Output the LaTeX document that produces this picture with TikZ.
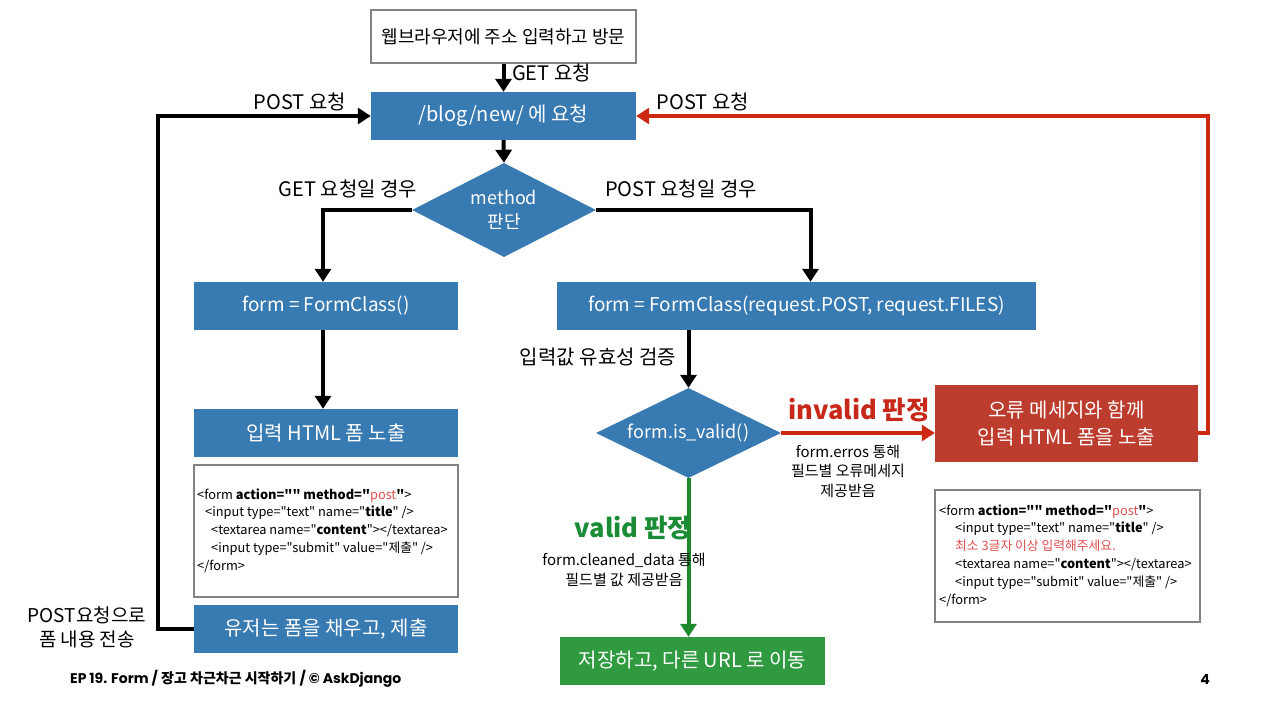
\documentclass[tikz,border=0pt]{standalone}
\usepackage{fontspec}
\setmainfont{Noto Sans CJK KR}[Ligatures=TeXOff]
\newfontfamily\popfont{Poppins}
\usetikzlibrary{arrows.meta,shapes.geometric,calc}
\definecolor{myblue}{RGB}{56,122,178}
\definecolor{myred}{RGB}{188,60,46}
\definecolor{arrred}{RGB}{204,40,18}
\definecolor{mygreen}{RGB}{48,154,64}
\definecolor{arrgreen}{RGB}{30,138,46}
\definecolor{txtred}{RGB}{200,40,26}
\definecolor{txtgreen}{RGB}{26,140,53}
\definecolor{codered}{RGB}{224,80,80}
\definecolor{bordergray}{RGB}{130,130,130}
\newcommand\fsz[2]{\fontsize{#1}{#2}\selectfont}
\begin{document}
\begin{tikzpicture}[x=1pt,y=-1pt,
  bluebox/.style={fill=myblue,text=white,minimum height=48pt,inner sep=0pt,font=\fsz{20}{24}},
  whitebox/.style={draw=bordergray,line width=1.2pt,fill=white,inner sep=0pt},
  decision/.style={diamond,fill=myblue,inner sep=0pt},
  lbl/.style={font=\fsz{20}{25},align=center,inner sep=0pt},
  dlbl/.style={font=\fsz{18}{24},align=center,inner sep=0pt,text=white},
  small/.style={font=\fsz{15}{19.5},align=center,inner sep=0pt},
  code/.style={font=\fsz{12.8}{17.8},align=left,inner sep=0pt,anchor=west},
  arr/.style={line width=4pt,line join=miter,-{Triangle[length=13pt,width=16pt]}},
]
\useasboundingbox (0,0) rectangle (1280,720);
\fill[white] (0,0) rectangle (1280,720);

% nodes
\node[whitebox,minimum width=265pt,minimum height=53pt,font=\fsz{18}{22}] (top) at (503.5,36.5) {웹브라우저에 주소 입력하고 방문};
\node[bluebox,minimum width=265pt] (blog) at (503.5,116) {/blog/new/ 에 요청};
\node[decision,minimum width=184pt,minimum height=94pt] (md) at (504,210) {};
\node[dlbl] (mdt) at (md) {method\\판단};
\node[bluebox,minimum width=264pt,font=\fsz{19}{23}] (formL) at (326,306) {form = FormClass()};
\node[bluebox,minimum width=479pt,font=\fsz{19}{23}] (formR) at (796.5,306) {form = FormClass(request.POST, request.FILES)};
\node[bluebox,minimum width=264pt] (html) at (326,433) {입력 HTML 폼 노출};
\node[whitebox,minimum width=264pt,minimum height=132pt] (codeL) at (326,531) {};
\node[code] (codeLt) at (197,530.5) {<form \textbf{action=""} \textbf{method="}\textcolor{codered}{post}\textbf{"}>\\
\hspace*{8pt}<input type="text" name="\textbf{title}" />\\
\hspace*{14pt}<textarea name="\textbf{content}"></textarea>\\
\hspace*{14pt}<input type="submit" value="제출" />\\
</form>};
\node[bluebox,minimum width=264pt] (user) at (326,629) {유저는 폼을 채우고, 제출};
\node[decision,minimum width=185pt,minimum height=90pt] (vd) at (688.5,433) {};
\node[dlbl] (vdt) at (vd) {form.is\_valid()};
\node[fill=myred,text=white,minimum width=263pt,minimum height=77pt,inner sep=0pt,align=center,font=\fsz{20}{27}] (red) at (1066.5,423.5) {오류 메세지와 함께\\입력 HTML 폼을 노출};
\node[whitebox,minimum width=265pt,minimum height=132pt] (codeR) at (1067.5,556) {};
\node[code] (codeRt) at (939,555.5) {<form \textbf{action=""} \textbf{method="}\textcolor{codered}{post}\textbf{"}>\\
\hspace*{16pt}<input type="text" name="\textbf{title}" />\\
\hspace*{16pt}\textcolor{codered}{최소 3글자 이상 입력해주세요.}\\
\hspace*{16pt}<textarea name="\textbf{content}"></textarea>\\
\hspace*{16pt}<input type="submit" value="제출" />\\
</form>};
\node[fill=mygreen,text=white,minimum width=265pt,minimum height=48pt,inner sep=0pt,font=\fsz{20}{24}] (green) at (692.5,661) {저장하고, 다른 URL 로 이동};

% connectors
\draw[arr] (top.south) -- (blog.north);
\draw[arr] (blog.south) -- (md.north);
\draw[arr] (md.west) -| ([xshift=-3pt]formL.north);
\draw[arr] (md.east) -| ([xshift=14pt]formR.north);
\draw[arr] ([xshift=-3pt]formL.south) -- ([xshift=-3pt]html.north);
\draw[arr] (vd.north |- formR.south) -- (vd.north);
\draw[arr] (user.west) -- ++(-36,0) |- (blog.west);
\draw[arr,arrred] (vd.east) -- (red.west |- vd.east);
\draw[arr,arrred] ([yshift=-9.5pt]red.east) -- ++(10,0) |- (blog.east);
\draw[arr,arrgreen] (vd.south) -- (vd.south |- green.north);

% labels
\node[lbl,anchor=west] (l1) at (512,73) {GET 요청};
\node[lbl] (l2) at (300,102) {POST 요청};
\node[lbl] (l3) at (703,102) {POST 요청};
\node[lbl] (l4) at (348,189) {GET 요청일 경우};
\node[lbl] (l5) at (681,189) {POST 요청일 경우};
\node[lbl] (l6) at (598,357) {입력값 유효성 검증};
\node[inner sep=0pt,font=\fsz{25.5}{30}\bfseries,text=txtred] (l7) at (859,410) {invalid 판정};
\node[small] (l8) at (848,471) {form.erros 통해\\필드별 오류메세지\\제공받음};
\node[inner sep=0pt,font=\fsz{25.5}{30}\bfseries,text=txtgreen] (l9) at (633,528) {valid 판정};
\node[small] (l10) at (624,570) {form.cleaned\_data 통해\\필드별 값 제공받음};
\node[font=\fsz{19}{24},align=center,inner sep=0pt] (l11) at (87,627) {POST요청으로\\폼 내용 전송};
\node[inner sep=0pt,anchor=west,font=\fsz{14}{16}\bfseries] (foot) at (70,679) {{\popfont EP 19. Form /} 장고 차근차근 시작하기 {\popfont / © AskDjango}};
\node[inner sep=0pt,font=\fsz{14}{16}\bfseries] (page) at (1205,679) {\popfont 4};
\end{tikzpicture}
\end{document}
